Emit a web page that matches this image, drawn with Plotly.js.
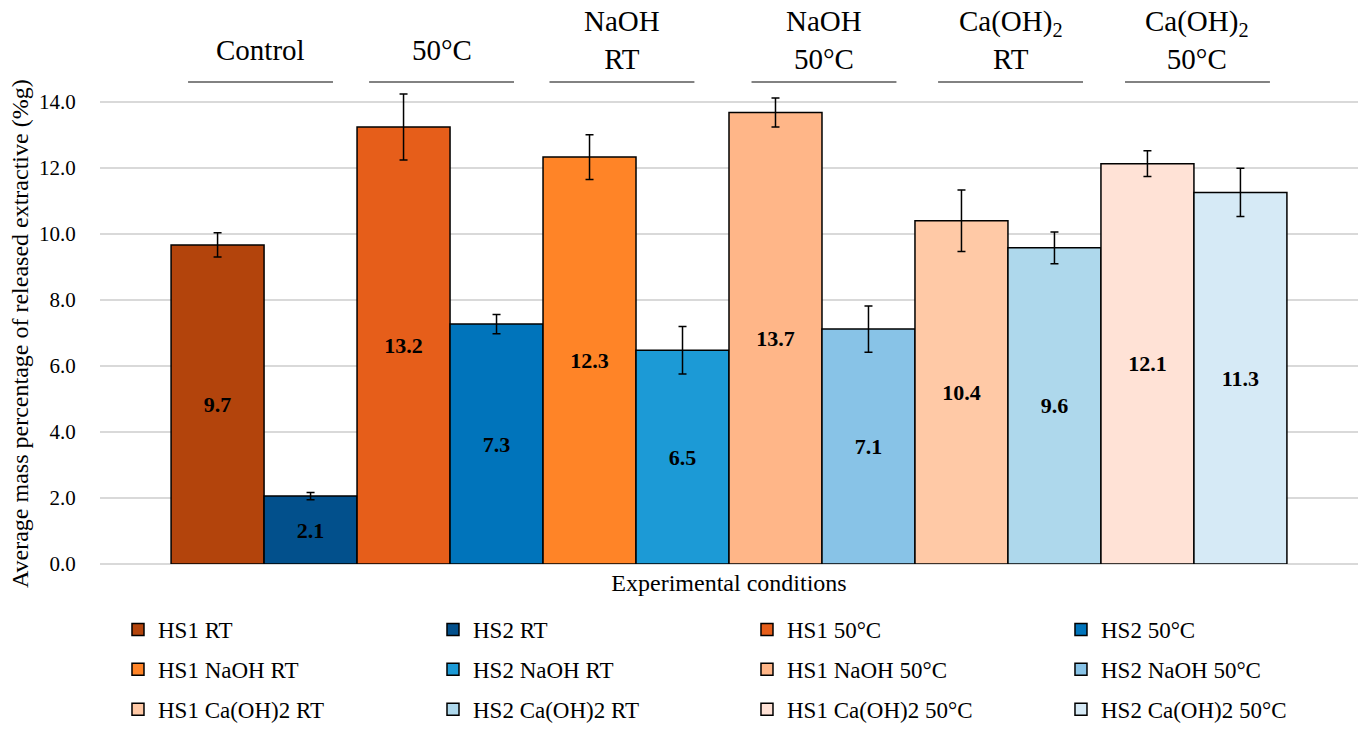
<!DOCTYPE html>
<html>
<head>
<meta charset="utf-8">
<script src="https://cdn.plot.ly/plotly-3.0.1.min.js"></script>
<style>html,body{margin:0;padding:0;background:#fff;}#chart{width:1358px;height:731px;}</style>
</head>
<body>
<div id="chart"></div>
<script>
const categories = ['Experimental conditions'];
const seriesNames = ['HS1 RT', 'HS2 RT', 'HS1 50°C', 'HS2 50°C', 'HS1 NaOH RT', 'HS2 NaOH RT', 'HS1 NaOH 50°C', 'HS2 NaOH 50°C', 'HS1 Ca(OH)2 RT', 'HS2 Ca(OH)2 RT', 'HS1 Ca(OH)2 50°C', 'HS2 Ca(OH)2 50°C'];
const values = [9.67, 2.06, 13.24, 7.27, 12.33, 6.48, 13.68, 7.12, 10.40, 9.58, 12.13, 11.26];
const errors = [0.37, 0.11, 1.00, 0.29, 0.68, 0.72, 0.44, 0.70, 0.93, 0.48, 0.39, 0.73];
const colors = ['#B3440C', '#02508C', '#E65E1A', '#0074BB', '#FF8427', '#1C9AD6', '#FFB688', '#88C3E7', '#FFC9A6', '#AED8EC', '#FFE2D6', '#D6EAF6'];
const groupLabels = ['Control', '50°C', 'NaOH<br>RT', 'NaOH<br>50°C', 'Ca(OH)<sub>2</sub><br>RT', 'Ca(OH)<sub>2</sub><br>50°C'];
const yTicks = [0, 2, 4, 6, 8, 10, 12, 14];
const yTitle = 'Average mass percentage of released extractive (%g)';

const FONT = 'Liberation Serif, Times New Roman, serif';
// legend laid out in 4 columns of 3 rows, as in the reference
const legendIds = ['legend', 'legend2', 'legend3', 'legend4'];
const legendColumnsX = [0.0143, 0.2647, 0.5143, 0.7639];

const traces = seriesNames.map((name, i) => ({
  type: 'bar',
  name: name,
  x: categories,
  y: [values[i]],
  marker: {color: colors[i], line: {color: '#000', width: 1.5}},
  error_y: {type: 'data', array: [errors[i]], visible: true, color: '#000', thickness: 1.5, width: 4},
  texttemplate: '<b>%{y:.1f}</b>',
  textposition: 'inside',
  insidetextanchor: 'middle',
  textangle: 0,
  textfont: {family: FONT, size: 22, color: '#000'},
  insidetextfont: {family: FONT, size: 22, color: '#000'},
  legend: legendIds[i % 4],
  legendgroup: 'g' + i,
  hoverinfo: 'name+y'
}));

// group label positions (paper fractions of plot width)
const groupCenters = [0.1276, 0.2715, 0.4149, 0.5755, 0.7238, 0.8724];
const lineHalf = 0.0576;

const annotations = groupLabels.map((t, i) => ({
  text: t, xref: 'paper', yref: 'paper', x: groupCenters[i],
  y: t.indexOf('<br>') >= 0 ? 1.0586 : 1.0384,
  xanchor: 'center', yanchor: 'middle', showarrow: false,
  font: {family: FONT, size: 29, color: '#000'}
}));
// y-axis title, centred on the 0-14 gridline span as in the reference
annotations.push({
  text: yTitle, xref: 'paper', yref: 'paper', x: -0.0636, y: 0.4667,
  xanchor: 'center', yanchor: 'middle', textangle: -90, showarrow: false,
  font: {family: FONT, size: 24, color: '#000'}
});
const shapes = groupCenters.map(c => ({
  type: 'line', xref: 'paper', yref: 'paper', x0: c - lineHalf, x1: c + lineHalf, y0: 0.9737, y1: 0.9737,
  line: {color: '#595959', width: 1.5}
}));

const layout = {
  width: 1358, height: 731,
  margin: {l: 100, r: 0, t: 69, b: 167, pad: 0},
  paper_bgcolor: '#fff', plot_bgcolor: '#fff',
  barmode: 'group', bargap: 0.113, bargroupgap: 0,
  font: {family: FONT, size: 21, color: '#000'},
  xaxis: {type: 'category', showgrid: false, showline: false, zeroline: false, ticks: '',
    ticklabelstandoff: 2,
    tickfont: {family: FONT, size: 24, color: '#000'}, automargin: false},
  yaxis: {range: [0, 15], tickvals: yTicks, tickformat: '.1f', showgrid: true, gridcolor: '#D9D9D9', gridwidth: 1.5,
    zeroline: true, zerolinecolor: '#D9D9D9', zerolinewidth: 1.5, showline: false,
    ticks: 'outside', ticklen: 19, tickcolor: 'rgba(0,0,0,0)', automargin: false,
    tickfont: {family: FONT, size: 21, color: '#000'}},
  annotations: annotations,
  shapes: shapes,
  showlegend: true
};
legendIds.forEach((id, k) => {
  layout[id] = {
    orientation: 'v', xref: 'paper', yref: 'paper',
    x: legendColumnsX[k], y: -0.3374, xanchor: 'left', yanchor: 'bottom',
    tracegroupgap: 7, traceorder: 'grouped',
    font: {family: FONT, size: 23, color: '#000'}, bgcolor: 'rgba(0,0,0,0)', borderwidth: 0
  };
});

Plotly.newPlot('chart', traces, layout, {displayModeBar: false, staticPlot: true});
</script>
</body>
</html>
